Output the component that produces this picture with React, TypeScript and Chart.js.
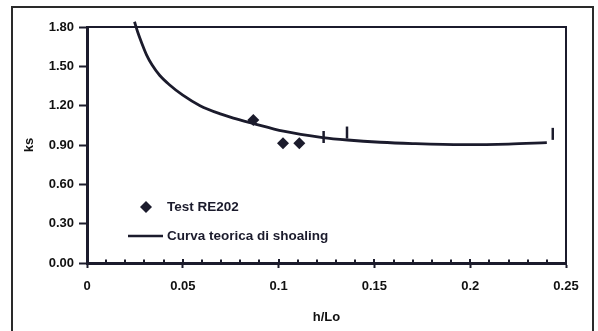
import React, { useEffect, useRef } from 'react';
import { Chart, registerables } from 'chart.js';

Chart.register(...registerables);

// Measured shoaling coefficients (Test RE202)
const testHL = [0.0868, 0.1023, 0.1108];
const testKs = [1.09, 0.913, 0.913];

// Theoretical shoaling curve
const curveHL = [0.0248, 0.0265, 0.0285, 0.031, 0.034, 0.038, 0.043, 0.050, 0.059, 0.070, 0.0764, 0.0865, 0.1025, 0.123, 0.136, 0.153, 0.170, 0.196, 0.220, 0.240];
const curveKs = [1.84, 1.76, 1.68, 1.59, 1.51, 1.43, 1.36, 1.28, 1.2, 1.135, 1.105, 1.065, 1.005, 0.957, 0.938, 0.921, 0.911, 0.903, 0.907, 0.918];

// Vertical bar markers
const markHL = [0.1235, 0.1357, 0.2431];
const markKs = [0.961, 0.995, 0.985];

// Axis ticks
const xTicks = [0, 0.05, 0.1, 0.15, 0.2, 0.25];
const xLabels = ['0', '0.05', '0.1', '0.15', '0.2', '0.25'];
const yTicks = [0, 0.3, 0.6, 0.9, 1.2, 1.5, 1.8];
const yLabels = ['0.00', '0.30', '0.60', '0.90', '1.20', '1.50', '1.80'];
const xMinorStep = 0.01;

const INK = '#1b1b2c';
const FONT = '"Liberation Sans", Arial, sans-serif';

const framePlugin = {
  id: 'frameAndLegend',
  afterDatasetsDraw(chart: any) {
    const { ctx, chartArea, scales } = chart;
    const { left, right, top, bottom } = chartArea;
    ctx.save();
    ctx.strokeStyle = INK;
    ctx.lineCap = 'butt';

    // top and right edges of the plot box
    ctx.lineWidth = 2;
    ctx.beginPath();
    ctx.moveTo(left, top);
    ctx.lineTo(right, top);
    ctx.lineTo(right, bottom);
    ctx.stroke();

    // minor and inner major ticks on the x axis
    const xs = scales.x;
    const n = Math.round((xs.max - xs.min) / xMinorStep);
    for (let i = 0; i <= n; i++) {
      const v = xs.min + i * xMinorStep;
      const px = Math.round(xs.getPixelForValue(v));
      const major = i % 5 === 0;
      ctx.lineWidth = 2;
      ctx.beginPath();
      ctx.moveTo(px, bottom);
      ctx.lineTo(px, bottom - (major ? 4 : 3.5));
      ctx.stroke();
    }

    // legend
    const ds = chart.data.datasets;
    ctx.fillStyle = INK;
    ctx.font = `bold 13.5px ${FONT}`;
    ctx.textBaseline = 'middle';
    ctx.textAlign = 'left';

    const tx = left + 80;
    const ly1 = top + 180;
    const ly2 = top + 209;
    const r = 6;
    const cx = left + 59;
    ctx.beginPath();
    ctx.moveTo(cx, ly1 - r);
    ctx.lineTo(cx + r, ly1);
    ctx.lineTo(cx, ly1 + r);
    ctx.lineTo(cx - r, ly1);
    ctx.closePath();
    ctx.fill();
    ctx.fillText(ds[0].label, tx, ly1 + 0.5);

    ctx.lineWidth = 2.6;
    ctx.beginPath();
    ctx.moveTo(left + 41, ly2);
    ctx.lineTo(left + 76, ly2);
    ctx.stroke();
    ctx.fillText(ds[1].label, tx, ly2 + 0.5);

    ctx.restore();
  },
};

export default function App() {
  const ref = useRef<HTMLCanvasElement | null>(null);

  useEffect(() => {
    if (!ref.current) return;
    const chart = new Chart(ref.current, {
      type: 'scatter',
      data: {
        datasets: [
          {
            label: 'Test RE202',
            data: testHL.map((x, i) => ({ x, y: testKs[i] })),
            pointStyle: 'rectRot',
            pointRadius: 6,
            backgroundColor: INK,
            borderColor: INK,
            borderWidth: 0,
          },
          {
            label: 'Curva teorica di shoaling',
            data: curveHL.map((x, i) => ({ x, y: curveKs[i] })),
            showLine: true,
            pointRadius: 0,
            borderColor: INK,
            borderWidth: 2.8,
            cubicInterpolationMode: 'monotone',
            clip: false,
          },
          {
            label: '',
            data: markHL.map((x, i) => ({ x, y: markKs[i] })),
            pointStyle: 'line',
            rotation: 90,
            pointRadius: 6,
            borderColor: INK,
            borderWidth: 2.5,
          },
        ],
      } as any,
      options: {
        animation: false,
        responsive: false,
        devicePixelRatio: 1,
        layout: { padding: { top: 27, right: 32, left: 0, bottom: 0 } },
        plugins: {
          legend: { display: false },
          tooltip: { enabled: false },
        },
        scales: {
          x: {
            type: 'linear',
            min: 0,
            max: 0.25,
            afterBuildTicks: (s: any) => {
              s.ticks = xTicks.map((v) => ({ value: v }));
            },
            afterFit: (s: any) => {
              s.height = 68;
            },
            ticks: {
              callback: (_v: any, i: number) => xLabels[i],
              color: '#111',
              font: { family: FONT, size: 13, weight: 'bold' },
              padding: 11,
              maxRotation: 0,
            },
            grid: {
              display: true,
              drawOnChartArea: false,
              drawTicks: true,
              tickLength: 5,
              tickWidth: 2,
              tickColor: INK,
            },
            border: { display: true, color: INK, width: 3 },
            title: {
              display: true,
              text: 'h/Lo',
              color: '#111',
              font: { family: FONT, size: 13, weight: 'bold' },
              padding: { top: 0, bottom: 6 },
            },
          },
          y: {
            type: 'linear',
            min: 0,
            max: 1.8,
            afterBuildTicks: (s: any) => {
              s.ticks = yTicks.map((v) => ({ value: v }));
            },
            afterFit: (s: any) => {
              s.width = 87;
            },
            ticks: {
              callback: (_v: any, i: number) => yLabels[i],
              color: '#111',
              font: { family: FONT, size: 13, weight: 'bold' },
              padding: 5,
            },
            grid: {
              display: true,
              drawOnChartArea: false,
              drawTicks: true,
              tickLength: 8,
              tickWidth: 2,
              tickColor: INK,
            },
            border: { display: true, color: INK, width: 3 },
            title: {
              display: true,
              text: 'ks',
              color: '#111',
              font: { family: FONT, size: 13, weight: 'bold' },
              padding: { top: 22, bottom: 0 },
            },
          },
        },
      } as any,
      plugins: [framePlugin],
    });
    return () => chart.destroy();
  }, []);

  return (
    <div style={{ position: 'fixed', left: 0, top: 0, width: 598, height: 331, overflow: 'hidden', background: '#fff' }}>
      <div
        style={{
          position: 'absolute',
          left: 11,
          top: 6,
          width: 583,
          height: 400,
          boxSizing: 'border-box',
          border: '2px solid #2a2a2a',
        }}
      />
      <canvas ref={ref} width={598} height={331} style={{ position: 'absolute', left: 0, top: 0 }} />
    </div>
  );
}
